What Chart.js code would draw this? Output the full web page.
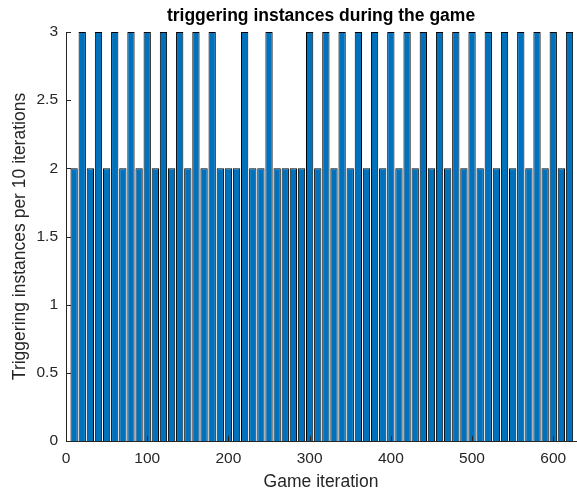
<!DOCTYPE html>
<html>
<head>
<meta charset="utf-8">
<script src="https://cdn.jsdelivr.net/npm/chart.js@4/dist/chart.umd.min.js"></script>
<style>
  html, body { margin: 0; padding: 0; background: #fff; }
  #wrap { width: 577px; height: 494px; position: relative; }
</style>
</head>
<body>
<div id="wrap"><canvas id="c"></canvas></div>
<script>
// data: one bar per 10 iterations
const iterations = [10,20,30,40,50,60,70,80,90,100,110,120,130,140,150,160,170,180,190,200,
  210,220,230,240,250,260,270,280,290,300,310,320,330,340,350,360,370,380,390,400,
  410,420,430,440,450,460,470,480,490,500,510,520,530,540,550,560,570,580,590,600,610,620];
const triggers = [2,3,2,3,2,3,2,3,2,3,2,3,2,3,2,3,2,3,2,2,
  2,3,2,2,3,2,2,2,2,3,2,3,2,3,2,3,2,3,2,3,
  2,3,2,3,2,3,2,3,2,3,2,3,2,3,2,3,2,3,2,3,2,3];
const xTicks = [0,100,200,300,400,500,600];
const yTicks = [0,0.5,1,1.5,2,2.5,3];

const FONT = 'Liberation Sans, Arial, Helvetica, sans-serif';
const AXIS = '#262626';

// MATLAB style ticks pointing inward
const innerTicks = {
  id: 'innerTicks',
  afterDatasetsDraw(chart) {
    const { ctx, chartArea: a, scales: { x, y } } = chart;
    ctx.save();
    ctx.strokeStyle = AXIS;
    ctx.lineWidth = 1;
    ctx.beginPath();
    xTicks.forEach(v => {
      const px = Math.round(x.getPixelForValue(v)) + 0.5;
      ctx.moveTo(px, a.bottom); ctx.lineTo(px, a.bottom - 5);
    });
    yTicks.forEach(v => {
      const py = Math.round(y.getPixelForValue(v)) + 0.5;
      ctx.moveTo(a.left, py); ctx.lineTo(a.left + 5, py);
    });
    ctx.stroke();
    ctx.restore();
  }
};

new Chart(document.getElementById('c').getContext('2d'), {
  type: 'bar',
  data: {
    datasets: [{
      data: iterations.map((v, i) => ({ x: v, y: triggers[i] })),
      backgroundColor: '#0072BD',
      borderColor: '#000',
      borderWidth: 1,
      barPercentage: 0.9,
      categoryPercentage: 1
    }]
  },
  options: {
    responsive: true, maintainAspectRatio: false, animation: false,
    layout: { padding: { left: 0, right: 1, top: 0, bottom: 0 } },
    plugins: {
      legend: { display: false },
      tooltip: { enabled: false },
      title: {
        display: true, fullSize: false, text: 'triggering instances during the game', color: '#000',
        font: { family: FONT, size: 17.5, weight: 'bold' }, padding: { top: 6, bottom: 5 }
      }
    },
    scales: {
      x: {
        type: 'linear', min: 0, max: 628, offset: false,
        grid: { display: false, drawTicks: false },
        border: { color: AXIS, width: 1 },
        ticks: { color: AXIS, font: { family: FONT, size: 15.5 }, padding: 8, autoSkip: false, maxRotation: 0 },
        afterBuildTicks: s => { s.ticks = xTicks.map(v => ({ value: v })); },
        afterFit: s => { s.height = 53; },
        title: { display: true, text: 'Game iteration', color: AXIS, font: { family: FONT, size: 17.5 }, padding: { top: 1.5, bottom: 1 } }
      },
      y: {
        min: 0, max: 3,
        grid: { display: false, drawTicks: false },
        border: { color: AXIS, width: 1 },
        ticks: { color: AXIS, font: { family: FONT, size: 15.5 }, padding: 8, callback: v => String(v) },
        afterBuildTicks: s => { s.ticks = yTicks.map(v => ({ value: v })); },
        afterFit: s => { s.width = 66; },
        title: { display: true, text: 'Triggering instances per 10 iterations', color: AXIS, font: { family: FONT, size: 17.5 }, padding: { top: 10, bottom: 4 } }
      }
    }
  },
  plugins: [innerTicks]
});
</script>
</body>
</html>
